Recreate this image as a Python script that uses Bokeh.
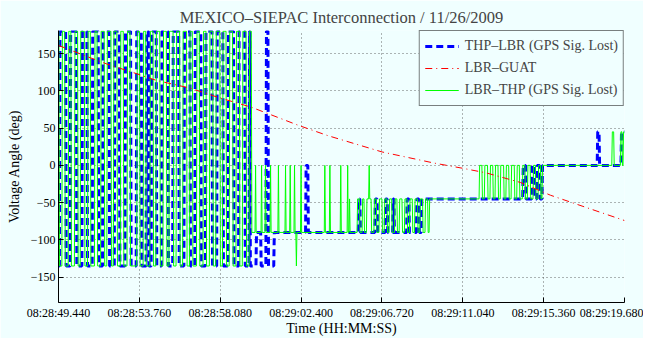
from bokeh.plotting import figure
from bokeh.models import Range1d, FixedTicker, CustomJSTickFormatter, Legend, LegendItem
from bokeh.embed import file_html
from bokeh.resources import INLINE

# ---------------- data ----------------
title_text = "MEXICO\u2013SIEPAC Interconnection / 11/26/2009"
x_label = "Time (HH:MM:SS)"
y_label = "Voltage Angle (deg)"
tick_secs = [0.0, 4.32, 8.64, 12.96, 17.28, 21.60, 25.92, 30.24]
tick_labels = ["08:28:49.440", "08:28:53.760", "08:28:58.080", "08:29:02.400",
               "08:29:06.720", "08:29:11.040", "08:29:15.360", "08:29:19.680"]
y_ticks = [-150, -100, -50, 0, 50, 100, 150]

WRAP_HI, WRAP_LO = 180, -135

# THP-LBR (GPS Sig. Lost): wrapping phase, switch times (s) between 180 and -135
thp_wrap_t = [0.05, 0.38, 0.62, 0.95, 1.25, 1.52, 1.80, 2.12, 2.35, 2.70, 2.98, 3.25,
              3.55, 3.85, 4.15, 4.42, 4.68, 4.80, 4.95, 5.22, 5.50, 5.85, 6.10, 6.42,
              6.70, 7.02, 7.28, 7.60, 7.85, 8.20, 8.45, 8.78, 9.05, 9.35, 9.62, 9.95,
              10.18, 10.22]
thp_wrap_start = WRAP_LO
# THP-LBR afterwards: time of change (s) and new angle (deg)
thp_chg_t = [10.55, 10.80, 11.08, 11.19, 11.50, 13.20, 13.32, 16.02, 16.10, 16.90, 17.02,
             17.45, 17.56, 17.85, 17.92, 18.60, 18.72, 19.12, 19.25, 19.38, 24.80, 24.95,
             25.28, 25.42, 25.55, 25.70, 25.83, 28.78, 28.88, 30.05]
thp_chg_v = [-90, -135, 180, -135, -90, 0, -90, -45, -90, -45, -90,
             -45, -90, -45, -90, -45, -90, -45, -90, -45, 0, -45,
             0, -45, 0, -45, 0, 45, 0, 45]

# LBR-THP (GPS Sig. Lost): wrapping phase switch times (s)
lbr_wrap_t = [0.02, 0.18, 0.33, 0.52, 0.66, 0.85, 1.02, 1.16, 1.38, 1.55, 1.70, 1.92,
              2.06, 2.25, 2.44, 2.58, 2.80, 2.93, 3.12, 3.30, 3.46, 3.66, 3.82, 4.18,
              4.33, 4.52, 4.66, 4.88, 5.05, 5.20, 5.41, 5.58, 5.76, 5.90, 6.12, 6.28,
              6.47, 6.63, 6.84, 7.00, 7.15, 7.37, 7.52, 7.72, 7.88, 8.06, 8.24, 8.40,
              8.62, 8.76, 8.95, 9.12, 9.30, 9.48, 9.66, 9.82, 10.02, 10.18]
lbr_wrap_start = WRAP_HI
lbr_chg_t = [10.30, 10.50, 10.53, 10.82, 10.85, 11.03, 11.06, 11.30, 11.33, 11.72, 11.75,
             12.10, 12.13, 12.35, 12.38, 12.58, 12.61, 12.68, 12.71, 12.93, 12.96,
             14.20, 14.23, 14.47, 14.50, 15.05, 15.08, 15.42, 15.45, 15.52, 15.55,
             15.95, 16.08, 16.22, 16.32, 16.45, 16.57, 16.60, 16.70, 16.85, 16.98,
             17.12, 17.28, 17.40, 17.55, 17.66, 17.80, 17.95, 18.08, 18.20, 18.35,
             18.48, 18.62, 18.75, 18.90, 19.02, 19.18, 19.30, 19.45, 19.58, 19.72, 19.80,
             22.47, 22.62, 22.75, 22.92, 23.05, 23.20, 23.32, 23.48, 23.60, 23.78,
             23.90, 24.05, 24.18, 24.35, 24.48, 24.62, 24.78, 24.92, 25.05, 25.20,
             25.35, 25.48, 25.62, 25.75, 25.83,
             29.56, 29.66, 30.02, 30.10, 30.16]
lbr_chg_v = [-90, 0, -90, 0, -90, 0, -90, 0, -90, 0, -90,
             0, -90, 0, -90, 0, -90, -135, -90, 0, -90,
             0, -90, 0, -90, 0, -90, 0, -90, -45, -90,
             -45, -90, -45, -90, -45, 0, -45, -90, -45, -90,
             -45, -90, -45, -90, -45, -90, -45, -90, -45, -90,
             -45, -90, -45, -90, -45, -90, -45, -90, -45, -90, -45,
             0, -45, 0, -45, 0, -45, 0, -45, 0, -45,
             0, -45, 0, -45, 0, -45, 0, -45, 0, -45,
             0, -45, 0, -45, 0,
             45, 0, 45, 0, 45]

# LBR-GUAT
guat_t = [0.0, 1.53, 2.59, 4.18, 5.23, 6.98, 8.56, 10.31, 12.79, 14.38, 17.29,
          20.09, 21.62, 22.84, 24.69, 26.28, 28.02, 30.24]
guat_v = [161, 146, 136, 123, 114, 104, 91, 78, 54, 40, 18,
          3, -4, -10, -23, -40, -55, -74]

T_END = 30.24
RAMP = 0.03


def build(wrap_t, start, chg_t, chg_v):
    xs, ys = [0.0], [start]
    cur = start
    for t in wrap_t:
        nxt = WRAP_LO if cur == WRAP_HI else WRAP_HI
        xs += [t, t + RAMP]
        ys += [cur, nxt]
        cur = nxt
    for t, v in zip(chg_t, chg_v):
        xs += [t, t + RAMP]
        ys += [cur, v]
        cur = v
    xs.append(T_END)
    ys.append(cur)
    return xs, ys


thp_x, thp_y = build(thp_wrap_t, thp_wrap_start, thp_chg_t, thp_chg_v)
lbr_x, lbr_y = build(lbr_wrap_t, lbr_wrap_start, lbr_chg_t, lbr_chg_v)

# ---------------- figure ----------------
BG = "#F0FFFF"
FONT = "Liberation Serif"

p = figure(width=643, height=338, output_backend="svg", toolbar_location=None,
           x_range=Range1d(0, T_END), y_range=Range1d(-184, 181),
           min_border_left=58, min_border_right=19, min_border_top=30, min_border_bottom=34)
p.background_fill_color = BG
p.border_fill_color = BG
p.outline_line_color = None

p.title.text = title_text
p.title.align = "center"
p.title.text_font = FONT
p.title.text_font_size = "16.5px"
p.title.text_font_style = "normal"
p.title.standoff = 8

r_thp = p.line(thp_x, thp_y, line_color="#0000FF", line_width=3, line_dash="7 4")
r_lbr = p.line(lbr_x, lbr_y, line_color="#00FF00", line_width=1)
r_guat = p.line(guat_t, guat_v, line_color="#FF0000", line_width=1, line_dash="7 4 1 4")

xa = p.xaxis[0]
xa.ticker = FixedTicker(ticks=tick_secs)
xa.formatter = CustomJSTickFormatter(args=dict(labels=tick_labels, step=4.32),
                                     code="return labels[Math.round(tick / step)];")
xa.axis_label = x_label
xa.major_label_standoff = 3
xa.axis_label_standoff = -2
ya = p.yaxis[0]
ya.ticker = FixedTicker(ticks=y_ticks)
ya.formatter = CustomJSTickFormatter(code="return tick < 0 ? '\u2212' + Math.abs(tick) : '' + tick;")
ya.axis_label = y_label
ya.major_label_standoff = 3
ya.axis_label_standoff = 6

for ax in (xa, ya):
    ax.axis_line_color = "black"
    ax.major_tick_line_color = "black"
    ax.major_tick_in = 5
    ax.major_tick_out = 0
    ax.minor_tick_line_color = None
    ax.major_label_text_font = FONT
    ax.major_label_text_font_size = "12px"
    ax.major_label_text_color = "black"
    ax.axis_label_text_font = FONT
    ax.axis_label_text_font_size = "14px"
    ax.axis_label_text_font_style = "normal"
    ax.axis_label_text_color = "black"

for g in (p.xgrid[0], p.ygrid[0]):
    g.grid_line_color = "#444444"
    g.grid_line_dash = "1 3"
    g.grid_line_alpha = 0.8
p.xgrid[0].ticker = FixedTicker(ticks=tick_secs)
p.ygrid[0].ticker = FixedTicker(ticks=y_ticks)

legend = Legend(items=[
    LegendItem(label="THP\u2013LBR (GPS Sig. Lost)", renderers=[r_thp]),
    LegendItem(label="LBR\u2013GUAT", renderers=[r_guat]),
    LegendItem(label="LBR\u2013THP (GPS Sig. Lost)", renderers=[r_lbr]),
], location="top_right")
legend.margin = 0
legend.padding = 5
legend.spacing = 2
legend.glyph_width = 34
legend.glyph_height = 20
legend.label_height = 20
legend.label_standoff = 6
legend.label_text_font = FONT
legend.label_text_font_size = "14px"
legend.border_line_color = "black"
legend.border_line_width = 1
legend.background_fill_color = BG
legend.background_fill_alpha = 1.0
p.add_layout(legend)

open("out.html", "w").write(file_html(p, INLINE))
